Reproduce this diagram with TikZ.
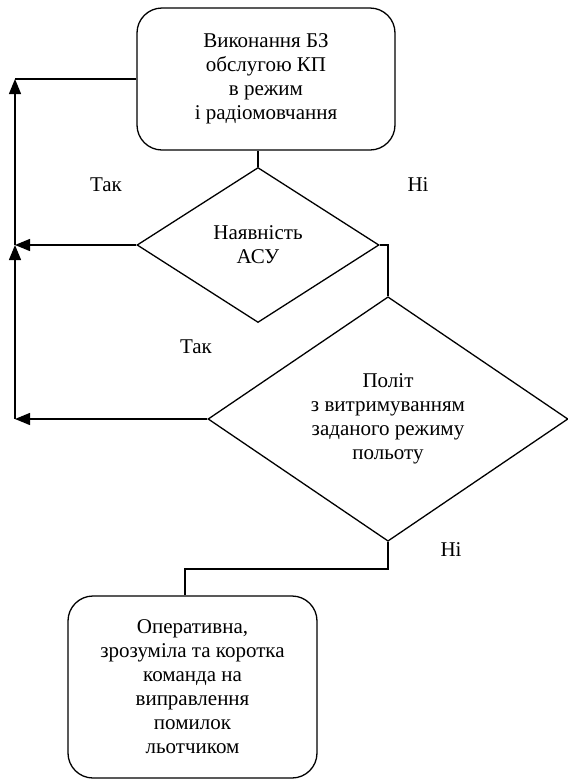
\documentclass[tikz,border=0pt]{standalone}
\usepackage{fontspec}
\setmainfont{Liberation Serif}
\usetikzlibrary{shapes.geometric,arrows.meta}

\begin{document}
\begin{tikzpicture}[x=1pt, y=-1pt, line width=1.3pt,
	font=\fontsize{21}{24}\selectfont,
	box/.style={draw, rounded corners=25pt, align=center, inner sep=0pt},
	cond/.style={draw, diamond, align=center, inner sep=0pt},
	arr/.style={-{Triangle[length=15pt, width=12pt]}}]
	\useasboundingbox (0,0) rectangle (568,780);

	\node[box, minimum width=258pt, minimum height=142pt] (start) at (266,79) {Виконання БЗ\\обслугою КП\\в режим\\і радіомовчання};
	\node[cond, minimum width=242pt, minimum height=155pt] (asu) at (258,245) {Наявність\\АСУ};
	\node[cond, minimum width=360pt, minimum height=228pt] (flight) at (388,419) {Політ\\з витримуванням\\заданого режиму\\польоту};
	\node[box, minimum width=249pt, minimum height=182pt] (command) at (192.5,687) {Оперативна,\\зрозуміла та коротка\\команда на\\виправлення\\помилок\\льотчиком};

	\node (yesasu) at (106,185) {Так};
	\node (noasu) at (418,185) {Ні};
	\node (yesflight) at (196,347) {Так};
	\node (noflight) at (451,550) {Ні};

	\coordinate (rail) at (15,0);
	\coordinate (bend) at (185,569);

	\draw (asu.north) -- (asu.north |- start.south);
	\draw (asu.east) -| (flight.north);
	\draw (flight.south) |- (bend) -- (bend |- command.north);

	\draw (start.west) -- (start.west -| rail);
	\draw[arr] (asu.west) -- (asu.west -| rail);
	\draw[arr] (flight.west) -- (flight.west -| rail);
	\draw[arr] (flight.west -| rail) -- (asu.west -| rail);
	\draw[arr] (asu.west -| rail) -- (start.west -| rail);
\end{tikzpicture}
\end{document}
